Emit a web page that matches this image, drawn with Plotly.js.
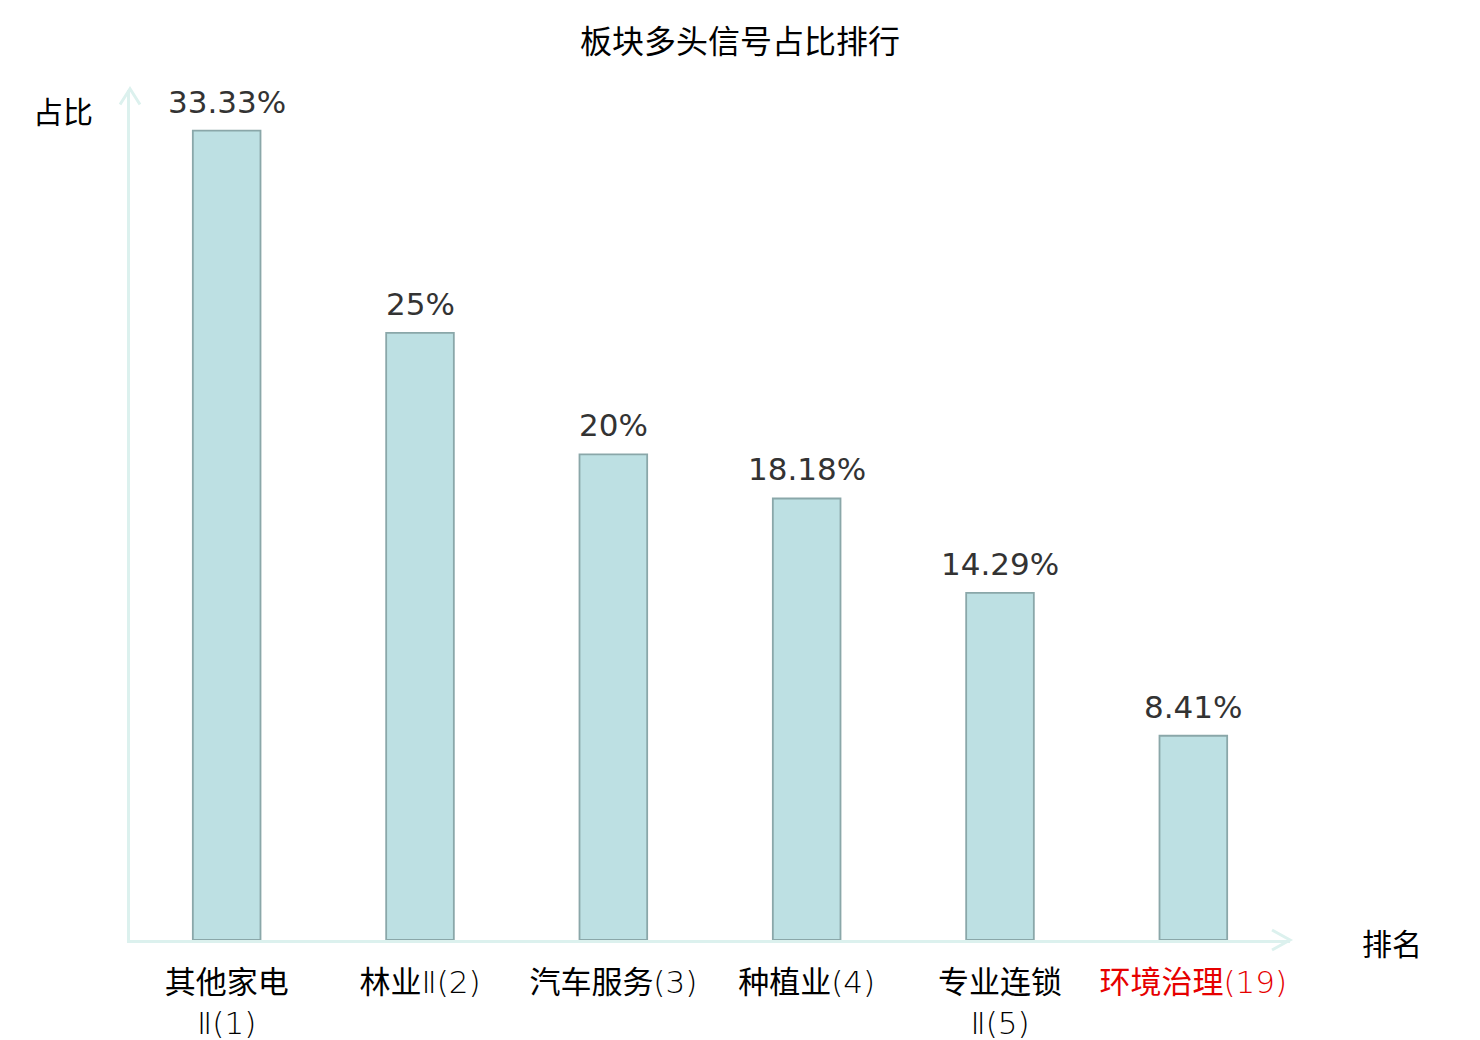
<!DOCTYPE html>
<html>
<head>
<meta charset="utf-8">
<script src="https://cdn.plot.ly/plotly-3.0.1.min.js"></script>
<style>html,body{margin:0;padding:0;background:#fff;}#chart{width:1480px;height:1040px;}</style>
</head>
<body>
<div id="chart"></div>
<script>
const sectors = ['其他家电Ⅱ', '林业Ⅱ', '汽车服务', '种植业', '专业连锁Ⅱ', '环境治理'];
const ranks = [1, 2, 3, 4, 5, 19];
const values = [33.33, 25, 20, 18.18, 14.29, 8.41];
const valueLabels = ['33.33%', '25%', '20%', '18.18%', '14.29%', '8.41%'];
const wrapBeforeRoman = [true, false, false, false, true, false];
const highlighted = [false, false, false, false, false, true];

const CJK = 'Noto Sans CJK SC, sans-serif';
const LATIN = 'DejaVu Sans, sans-serif';
const axisColor = '#dcf1ee';

const categories = sectors.map((s, i) => s + '(' + ranks[i] + ')');
const tickText = sectors.map((s, i) => {
  const cjk = s.replace('Ⅱ', '');
  const latin = (s.indexOf('Ⅱ') >= 0 ? 'Ⅱ' : '') + '(' + ranks[i] + ')';
  const light = '<span style="font-family:\'DejaVu Sans ExtraLight\',\'DejaVu Sans\';font-weight:200">' + latin + '</span>';
  let t = cjk + (wrapBeforeRoman[i] ? '<br>' : '') + light;
  if (highlighted[i]) t = '<span style="fill:#e60000">' + t + '</span>';
  return t;
});

const trace = {
  type: 'bar',
  x: categories,
  y: values,
  marker: {color: '#bde0e3', line: {color: '#8aa7a9', width: 1.8}},
  width: 0.35,
  hoverinfo: 'none'
};

const valueAnnotations = categories.map((c, i) => ({
  x: c, y: values[i], xref: 'x', yref: 'y',
  text: valueLabels[i], showarrow: false,
  xanchor: 'center', yanchor: 'middle', yshift: 29,
  font: {family: LATIN, size: 31, color: '#333333'}
}));

const layout = {
  width: 1480,
  height: 1040,
  margin: {l: 130, r: 190, t: 90, b: 100},
  paper_bgcolor: '#ffffff',
  plot_bgcolor: '#ffffff',
  showlegend: false,
  font: {family: CJK, color: '#000000'},
  title: {text: '板块多头信号占比排行', x: 0.5, xref: 'container', xanchor: 'center', y: 0.9596, yref: 'container', yanchor: 'middle', font: {family: CJK, size: 32, color: '#000000'}},
  xaxis: {
    type: 'category',
    range: [-0.5, 5.5],
    tickmode: 'array',
    tickvals: categories,
    ticktext: tickText,
    ticks: '',
    ticklen: 0,
    ticklabelstandoff: 13,
    showgrid: false,
    zeroline: false,
    showline: true,
    linecolor: axisColor,
    linewidth: 3,
    tickfont: {family: CJK, size: 31, color: '#000000'},
    fixedrange: true
  },
  yaxis: {
    range: [0, 35],
    showticklabels: false,
    ticks: '',
    showgrid: false,
    zeroline: false,
    showline: true,
    linecolor: axisColor,
    linewidth: 3,
    fixedrange: true
  },
  shapes: [
    {type: 'path', xref: 'paper', yref: 'paper', path: 'M -0.0086 0.983 L 0 1.0015 L 0.0086 0.983', line: {color: axisColor, width: 3}},
    {type: 'path', xref: 'paper', yref: 'paper', path: 'M 0.9845 0.0118 L 1.0 0 L 0.9845 -0.0118', line: {color: axisColor, width: 3}}
  ],
  annotations: valueAnnotations.concat([
    {text: '占比', xref: 'paper', yref: 'paper', x: -0.0578, y: 0.9765, xanchor: 'center', yanchor: 'middle', showarrow: false, font: {family: CJK, size: 30, color: '#000000'}},
    {text: '排名', xref: 'paper', yref: 'paper', x: 1.0879, y: -0.0024, xanchor: 'center', yanchor: 'middle', showarrow: false, font: {family: CJK, size: 30, color: '#000000'}}
  ])
};

Plotly.newPlot('chart', [trace], layout, {displayModeBar: false, staticPlot: true});
</script>
</body>
</html>
